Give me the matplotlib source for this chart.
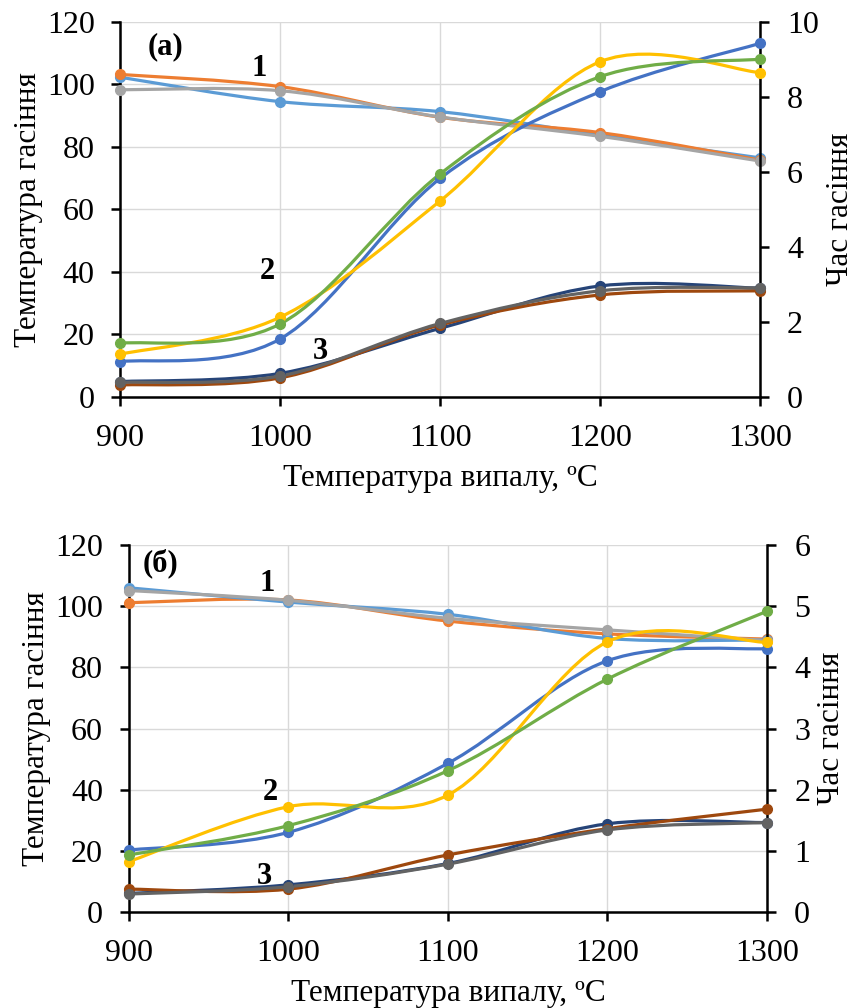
"""Temperature and time of slaking vs. firing temperature, two panels."""

import matplotlib.pyplot as plt
from matplotlib.patches import PathPatch
from matplotlib.path import Path

plt.rcParams["font.family"] = ["Liberation Serif", "DejaVu Serif"]

firing_temp = [900, 1000, 1100, 1200, 1300]

# panel (a): curves "1" on the left axis, "2" and "3" on the right axis
a_temp_orange = [103.2, 99.3, 89.5, 84.6, 75.8]
a_temp_lblue = [102.3, 94.5, 91.3, 83.8, 76.5]
a_temp_gray = [98.3, 98.0, 89.6, 83.4, 75.5]
a_time_blue = [0.94, 1.55, 5.83, 8.14, 9.43]
a_time_green = [1.43, 1.95, 5.95, 8.54, 9.01]
a_time_yellow = [1.14, 2.13, 5.23, 8.94, 8.65]
a_time_dblue = [0.41, 0.63, 1.83, 2.96, 2.90]
a_time_brown = [0.32, 0.51, 1.92, 2.72, 2.83]
a_time_dgray = [0.39, 0.56, 1.96, 2.83, 2.91]

# panel (б)
b_temp_orange = [101.2, 102.1, 95.2, 91.0, 89.3]
b_temp_lblue = [106.1, 101.4, 97.4, 89.5, 89.0]
b_temp_gray = [105.2, 102.0, 96.1, 92.3, 88.8]
b_time_blue = [1.01, 1.30, 2.43, 4.11, 4.31]
b_time_green = [0.93, 1.41, 2.31, 3.81, 4.92]
b_time_yellow = [0.82, 1.72, 1.91, 4.42, 4.41]
b_time_dblue = [0.30, 0.44, 0.79, 1.44, 1.46]
b_time_brown = [0.37, 0.37, 0.93, 1.36, 1.68]
b_time_dgray = [0.29, 0.41, 0.78, 1.34, 1.46]

COLORS = {
    "orange": "#ED7D31",
    "lblue": "#5B9BD5",
    "gray": "#A5A5A5",
    "blue": "#4472C4",
    "green": "#70AD47",
    "yellow": "#FFC000",
    "dblue": "#264478",
    "brown": "#9E480E",
    "dgray": "#636363",
}


def smooth_line(ax, xs, ys, color):
    """Excel-style smoothed line: cubic Bezier segments through the points."""
    pts = list(zip(xs, ys))
    n = len(pts)
    verts = [pts[0]]
    codes = [Path.MOVETO]
    for i in range(n - 1):
        p0 = pts[i - 1] if i > 0 else pts[i]
        p1 = pts[i]
        p2 = pts[i + 1]
        p3 = pts[i + 2] if i + 2 < n else pts[i + 1]
        c1 = (p1[0] + (p2[0] - p0[0]) / 6, p1[1] + (p2[1] - p0[1]) / 6)
        c2 = (p2[0] - (p3[0] - p1[0]) / 6, p2[1] - (p3[1] - p1[1]) / 6)
        verts += [c1, c2, p2]
        codes += [Path.CURVE4] * 3
    patch = PathPatch(Path(verts, codes), facecolor="none", edgecolor=color,
                      lw=2.3, capstyle="round", clip_on=False, zorder=3)
    ax.add_patch(patch)
    ax.plot(xs, ys, "o", color=color, ms=7, clip_on=False, zorder=4)


def style_panel(ax, ax2, right_max):
    ax.set_xlim(900, 1300)
    ax.set_ylim(0, 120)
    ax.set_xticks(firing_temp)
    ax.set_yticks(range(0, 121, 20))
    ax2.set_ylim(0, right_max)
    ax2.set_yticks(range(0, right_max + 1, 2 if right_max == 10 else 1))
    ax.grid(True, color="#D9D9D9", lw=1.0)
    ax.set_axisbelow(True)
    for a in (ax, ax2):
        a.spines["top"].set_visible(False)
        for s in ("left", "right", "bottom"):
            a.spines[s].set_linewidth(1.8)
        a.tick_params(labelsize=23, width=1.8, length=6.5, direction="out")
    ax.tick_params(axis="x", pad=13)
    ax.tick_params(axis="y", pad=12)
    ax2.tick_params(axis="y", pad=13)
    ax2.spines["left"].set_visible(False)
    ax2.spines["bottom"].set_visible(False)
    ax.spines["right"].set_visible(False)
    ax.set_xlabel("Температура випалу, ºC", fontsize=22.5, labelpad=8)
    ax.set_ylabel("Температура гасіння", fontsize=22.5, labelpad=3)
    ax2.set_ylabel("Час гасіння", fontsize=22.5, labelpad=5)


def draw_panel(ax, temp_series, time_series, right_max, labels):
    ax2 = ax.twinx()
    style_panel(ax, ax2, right_max)
    for ys, c in temp_series:
        smooth_line(ax, firing_temp, ys, COLORS[c])
    for ys, c in time_series:
        smooth_line(ax2, firing_temp, ys, COLORS[c])
    for txt, x, y in labels:
        ax.text(x, y, txt, fontsize=22, fontweight="bold", ha="center",
                va="center", zorder=5)


fig = plt.figure(figsize=(8.58, 10.08), dpi=100)
ax_a = fig.add_axes([0.1404, 0.6062, 0.7454, 0.372])
ax_b = fig.add_axes([0.150, 0.0955, 0.744, 0.3635])

draw_panel(
    ax_a,
    [(a_temp_lblue, "lblue"), (a_temp_orange, "orange"), (a_temp_gray, "gray")],
    [(a_time_blue, "blue"), (a_time_yellow, "yellow"), (a_time_green, "green"),
     (a_time_dblue, "dblue"), (a_time_brown, "brown"), (a_time_dgray, "dgray")],
    10,
    [("(а)", 928, 112), ("1", 987, 105), ("2", 992, 40), ("3", 1025, 14.5)],
)
draw_panel(
    ax_b,
    [(b_temp_orange, "orange"), (b_temp_lblue, "lblue"), (b_temp_gray, "gray")],
    [(b_time_blue, "blue"), (b_time_yellow, "yellow"), (b_time_green, "green"),
     (b_time_dblue, "dblue"), (b_time_brown, "brown"), (b_time_dgray, "dgray")],
    6,
    [("(б)", 920, 114), ("1", 987, 107.5), ("2", 989, 39), ("3", 985, 11.5)],
)

fig.savefig("out.png", dpi=100)
